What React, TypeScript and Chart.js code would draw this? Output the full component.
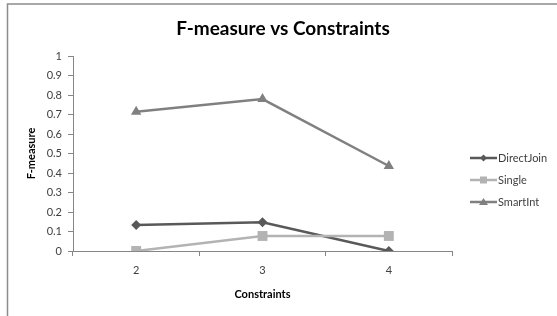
import React, { useEffect, useRef } from "react";
import { Chart, registerables } from "chart.js";

Chart.register(...registerables);

const categories = ["2", "3", "4"];
const directJoin = [0.133, 0.147, 0];
const single = [0, 0.077, 0.077];
const smartInt = [0.714, 0.779, 0.436];
const seriesNames = ["DirectJoin", "Single", "SmartInt"];
const chartTitle = "F-measure vs Constraints";
const xTitle = "Constraints";
const yTitle = "F-measure";

const FONT = "Lato, 'Open Sans', sans-serif";
const colors = ["#595959", "#b3b3b3", "#808080"];
const styles = ["rectRot", "rect", "triangle"];
const radii = [5, 7, 6];

const decorPlugin = {
  id: "decor",
  afterDraw(chart: any) {
    const ctx = chart.ctx;
    ctx.save();
    // frame
    ctx.strokeStyle = "#8c8c8c";
    ctx.lineWidth = 1.5;
    ctx.beginPath();
    ctx.moveTo(7.5, 316);
    ctx.lineTo(7.5, 4);
    ctx.lineTo(557, 4);
    ctx.stroke();
    // title
    ctx.fillStyle = "#000";
    ctx.font = `bold 19px ${FONT}`;
    ctx.textAlign = "center";
    ctx.textBaseline = "middle";
    ctx.fillText(chartTitle, 283, 29);
    // legend
    const rows = [158, 180, 202];
    chart.data.datasets.forEach((ds: any, i: number) => {
      const y = rows[i];
      ctx.strokeStyle = ds.borderColor;
      ctx.lineWidth = 2.5;
      ctx.beginPath();
      ctx.moveTo(470, y);
      ctx.lineTo(497, y);
      ctx.stroke();
      ctx.fillStyle = ds.borderColor;
      ctx.beginPath();
      const cx = 483.5;
      if (i === 0) {
        ctx.moveTo(cx, y - 3.5);
        ctx.lineTo(cx + 3.5, y);
        ctx.lineTo(cx, y + 3.5);
        ctx.lineTo(cx - 3.5, y);
      } else if (i === 1) {
        ctx.rect(cx - 3.5, y - 3.5, 7, 7);
      } else {
        ctx.moveTo(cx, y - 4);
        ctx.lineTo(cx + 4.5, y + 3);
        ctx.lineTo(cx - 4.5, y + 3);
      }
      ctx.closePath();
      ctx.fill();
      ctx.fillStyle = "#404040";
      ctx.font = `11px ${FONT}`;
      ctx.textAlign = "left";
      ctx.textBaseline = "middle";
      ctx.fillText(ds.label, 498, y);
    });
    ctx.restore();
  },
};

export default function App() {
  const ref = useRef<HTMLCanvasElement>(null);
  useEffect(() => {
    document.body.style.margin = "0";
    const series = [directJoin, single, smartInt];
    const chart = new Chart(ref.current as HTMLCanvasElement, {
      type: "line",
      data: {
        labels: categories,
        datasets: series.map((d, i) => ({
          label: seriesNames[i],
          data: d,
          borderColor: colors[i],
          backgroundColor: colors[i],
          borderWidth: 2.5,
          pointStyle: styles[i] as any,
          pointRadius: radii[i],
          pointBorderWidth: 0,
          tension: 0,
          order: 3 - i,
        })),
      },
      options: {
        animation: false,
        responsive: false,
        devicePixelRatio: 1,
        layout: { padding: { left: 0, right: 105, top: 56, bottom: 0 } },
        plugins: {
          legend: { display: false },
          title: { display: false },
          tooltip: { enabled: false },
        },
        scales: {
          x: {
            offset: true,
            grid: {
              offset: true,
              drawOnChartArea: false,
              drawTicks: true,
              tickLength: 5,
              color: "#868686",
            },
            border: { display: true, color: "#868686", width: 1 },
            ticks: {
              padding: 8,
              color: "#404040",
              font: { family: FONT, size: 11 },
            },
            title: {
              display: true,
              text: xTitle,
              color: "#000",
              font: { family: FONT, size: 11, weight: "bold" },
              padding: { top: 0, bottom: 15 },
            },
            afterFit(scale: any) {
              scale.height = 65;
            },
          },
          y: {
            min: 0,
            max: 1,
            ticks: {
              stepSize: 0.1,
              padding: 6,
              color: "#404040",
              font: { family: FONT, size: 11 },
              callback: (v: any) => String(Math.round(Number(v) * 10) / 10),
            },
            grid: {
              drawOnChartArea: false,
              drawTicks: true,
              tickLength: 5,
              color: "#868686",
            },
            border: { display: true, color: "#868686", width: 1 },
            title: {
              display: true,
              text: yTitle,
              color: "#000",
              font: { family: FONT, size: 11, weight: "bold" },
              padding: { top: 25, bottom: 0 },
            },
            afterFit(scale: any) {
              scale.width = 73;
            },
          },
        },
      },
      plugins: [decorPlugin],
    });
    return () => chart.destroy();
  }, []);
  return <canvas ref={ref} width={557} height={316} style={{ display: "block" }} />;
}
